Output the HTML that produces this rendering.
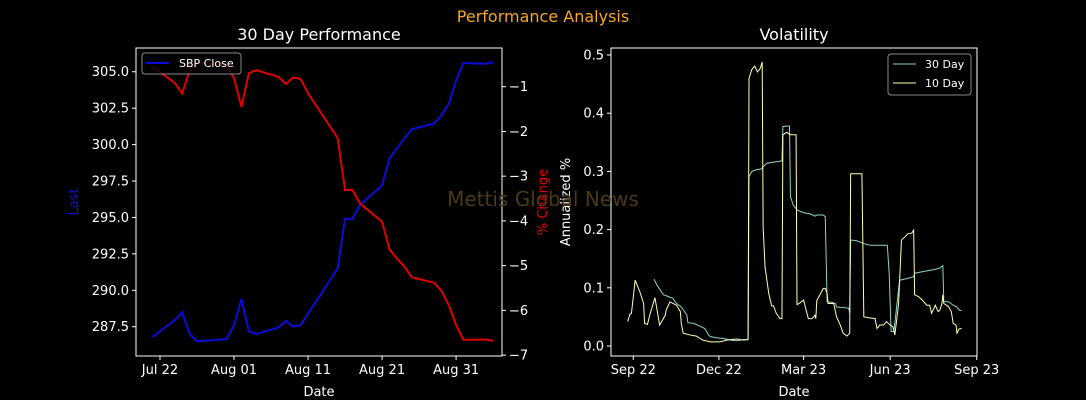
<!DOCTYPE html>
<html><head><meta charset="utf-8"><style>
body{margin:0;background:#000;width:1086px;height:400px;overflow:hidden}
svg{display:block;font-family:"DejaVu Sans","Liberation Sans",sans-serif}
text{fill:#fff;font-size:13px}
</style></head><body>
<svg id="chart" width="1086" height="400" xmlns="http://www.w3.org/2000/svg">
<rect width="1086" height="400" fill="#000"/>
<text x="543" y="22" text-anchor="middle" style="fill:#f5a623;font-size:16px">Performance Analysis</text>
<text x="319" y="40" text-anchor="middle" style="font-size:16px">30 Day Performance</text>
<text x="794" y="40" text-anchor="middle" style="font-size:16px">Volatility</text>
<g id="left"></g><g id="right"></g>
<text x="543" y="206" text-anchor="middle" style="fill:#4a3818;font-size:20px">Mettis Global News</text>
</svg>
<script>
const perfDates=["2023-07-21","2023-07-24","2023-07-25","2023-07-26","2023-07-27","2023-07-31","2023-08-01","2023-08-02","2023-08-03","2023-08-04","2023-08-07","2023-08-08","2023-08-09","2023-08-10","2023-08-11","2023-08-15","2023-08-16","2023-08-17","2023-08-18","2023-08-21","2023-08-22","2023-08-23","2023-08-24","2023-08-25","2023-08-28","2023-08-29","2023-08-30","2023-08-31","2023-09-01","2023-09-04","2023-09-05"];
const closeVals=[286.8,287.95,288.5,287.0,286.5,286.65,287.6,289.4,287.2,287.0,287.45,287.9,287.5,287.6,288.4,291.5,294.9,294.9,295.85,297.2,299.05,299.75,300.4,301.05,301.45,302.0,302.8,304.4,305.6,305.55,305.65];
const pctVals=[-0.55,-0.92,-1.15,-0.63,-0.46,-0.52,-0.81,-1.45,-0.70,-0.63,-0.78,-0.94,-0.79,-0.83,-1.15,-2.15,-3.31,-3.31,-3.61,-4.02,-4.64,-4.84,-5.02,-5.26,-5.38,-5.56,-5.88,-6.33,-6.66,-6.65,-6.68];
const lastTicks=[287.5,290.0,292.5,295.0,297.5,300.0,302.5,305.0];
const pctTicks=[-1,-2,-3,-4,-5,-6,-7];
const perfXTicks=["2023-07-22","2023-08-01","2023-08-11","2023-08-21","2023-08-31"];
const perfXLabels=["Jul 22","Aug 01","Aug 11","Aug 21","Aug 31"];

const vol10Days=[-6,-3.5,-2,2,7,11,12,15,18,23,28,34,35,39,46,50,51,53,60,67,74,82,92,99,110,117,122,123,126,129,132,135,137,138,140,144,147,149,152,156,158,159,163,167,173,174,177,181,186,190,193,194,195,198,202,204,206,207,213,216,220,223,227,230,231,234,243,245,252,257,259,262,266,269,273,276,278,282,285,289,292,296,298,299,303,307,312,315,317,321,324,326,328,329,330,335,338,340,343,344,346,349];
const vol10Vals=[0.042,0.055,0.056,0.113,0.093,0.073,0.039,0.037,0.056,0.083,0.036,0.053,0.062,0.076,0.070,0.059,0.039,0.022,0.019,0.017,0.010,0.007,0.007,0.010,0.012,0.010,0.011,0.460,0.475,0.481,0.471,0.477,0.488,0.205,0.136,0.090,0.069,0.069,0.056,0.047,0.047,0.363,0.367,0.363,0.363,0.071,0.074,0.079,0.047,0.047,0.053,0.047,0.078,0.087,0.099,0.099,0.090,0.073,0.073,0.050,0.036,0.022,0.017,0.022,0.296,0.296,0.296,0.050,0.048,0.047,0.030,0.036,0.036,0.042,0.036,0.033,0.019,0.073,0.182,0.188,0.193,0.194,0.199,0.088,0.085,0.079,0.070,0.070,0.056,0.070,0.059,0.062,0.073,0.088,0.073,0.068,0.059,0.039,0.036,0.022,0.029,0.030];
const vol30Days=[22,25,28,32,37,42,46,51,57,58,64,71,76,80,82,89,96,103,110,117,122,123,126,131,136,138,142,149,158,159,163,166,167,170,174,181,188,193,195,202,204,206,211,215,216,223,229,230,231,237,245,252,259,270,272,274,277,283,291,298,299,305,312,319,326,329,330,335,340,344,347,349];
const vol30Vals=[0.115,0.105,0.098,0.088,0.085,0.082,0.073,0.067,0.053,0.040,0.039,0.034,0.030,0.019,0.016,0.014,0.013,0.010,0.009,0.011,0.011,0.291,0.300,0.303,0.304,0.308,0.314,0.316,0.318,0.377,0.378,0.378,0.257,0.242,0.234,0.229,0.227,0.223,0.225,0.225,0.222,0.076,0.075,0.073,0.067,0.066,0.065,0.057,0.182,0.181,0.176,0.173,0.173,0.173,0.124,0.025,0.025,0.113,0.116,0.119,0.125,0.127,0.129,0.131,0.134,0.138,0.076,0.076,0.070,0.067,0.061,0.061];
const volTicks=[0.0,0.1,0.2,0.3,0.4,0.5];
const volXTicks=[0,91,181,273,365];
const volXLabels=["Sep 22","Dec 22","Mar 23","Jun 23","Sep 23"];

const NS="http://www.w3.org/2000/svg";
function mk(parent,tag,attrs,txt){const e=document.createElementNS(NS,tag);for(const k in attrs)e.setAttribute(k,attrs[k]);if(txt!==undefined)e.textContent=txt;parent.appendChild(e);return e;}
const DAY=86400000, base=Date.UTC(2023,6,22);
const dnum=s=>(Date.parse(s+"T00:00:00Z")-base)/DAY;
const L={x0:136,x1:502,y0:48,y1:356};
const lx=d=>L.x0+(d-(-3.24))/(46.2+3.24)*(L.x1-L.x0);
const ly=v=>L.y1-(v-285.49)/(306.63-285.49)*(L.y1-L.y0);
const py=v=>L.y1-(v-(-7.02))/(-0.135+7.02)*(L.y1-L.y0);
const gl=document.getElementById('left');
lastTicks.forEach(t=>{const y=ly(t);
 const tk=mk(gl,'line',{x1:L.x0-4,x2:L.x0,y1:y,y2:y,stroke:'#fff'});
 
 const lb=mk(gl,'text',{x:L.x0-7,y:y+4.5,'text-anchor':'end'},t.toFixed(1));
 });
pctTicks.forEach(t=>{const y=py(t);
 const tk=mk(gl,'line',{x1:L.x1,x2:L.x1+4,y1:y,y2:y,stroke:'#fff'});
 
 const lb=mk(gl,'text',{x:L.x1+7,y:y+4.5},'\u2212'+Math.abs(t));
 });
perfXTicks.forEach((s,i)=>{const x=lx(dnum(s));
 const tk=mk(gl,'line',{x1:x,x2:x,y1:L.y1,y2:L.y1+4,stroke:'#fff'});
 
 const lb=mk(gl,'text',{x:x,y:L.y1+18,'text-anchor':'middle'},perfXLabels[i]);
 });
let p1=mk(gl,'polyline',{points:perfDates.map((s,i)=>lx(dnum(s))+','+ly(closeVals[i])).join(' '),fill:'none',stroke:'#0c0cd8','stroke-width':2});

let p2=mk(gl,'polyline',{points:perfDates.map((s,i)=>lx(dnum(s))+','+py(pctVals[i])).join(' '),fill:'none',stroke:'#e00000','stroke-width':2});

let f1=mk(gl,'rect',{x:L.x0,y:L.y0,width:L.x1-L.x0,height:L.y1-L.y0,fill:'none',stroke:'#fff'});

let lg=mk(gl,'g',{});
mk(lg,'rect',{x:142,y:53,width:99,height:21,rx:3,fill:'#000',stroke:'#888','fill-opacity':0.8});
mk(lg,'line',{x1:146,x2:169,y1:63,y2:63,stroke:'#0c0cd8','stroke-width':2});
mk(lg,'text',{x:179,y:67,style:'font-size:11px'},'SBP Close');
let a1=mk(gl,'text',{x:78,y:202,transform:'rotate(-90 78 202)','text-anchor':'middle',style:'fill:#1010e0'},'Last');

let a2=mk(gl,'text',{x:547,y:202,transform:'rotate(-90 547 202)','text-anchor':'middle',style:'fill:#e00000'},'% Change');

let a3=mk(gl,'text',{x:319,y:396,'text-anchor':'middle'},'Date');

const R={x0:611,x1:977,y0:48,y1:356};
const rx=d=>R.x0+(d+23.7)/(365.3+23.7)*(R.x1-R.x0);
const ry=v=>R.y1-(v+0.0172)/(0.512+0.0172)*(R.y1-R.y0);
const gr=document.getElementById('right');
volTicks.forEach(t=>{const y=ry(t);
 const tk=mk(gr,'line',{x1:R.x0-4,x2:R.x0,y1:y,y2:y,stroke:'#fff'});
 
 const lb=mk(gr,'text',{x:R.x0-7,y:y+4.5,'text-anchor':'end'},t.toFixed(1));
 });
volXTicks.forEach((d,i)=>{const x=rx(d);
 const tk=mk(gr,'line',{x1:x,x2:x,y1:R.y1,y2:R.y1+4,stroke:'#fff'});
 
 const lb=mk(gr,'text',{x:x,y:R.y1+18,'text-anchor':'middle'},volXLabels[i]);
 });
let v3=mk(gr,'polyline',{points:vol30Days.map((d,i)=>rx(d)+','+ry(vol30Vals[i])).join(' '),fill:'none',stroke:'#8dd3c7','stroke-width':1});

let v1=mk(gr,'polyline',{points:vol10Days.map((d,i)=>rx(d)+','+ry(vol10Vals[i])).join(' '),fill:'none',stroke:'#ffffb3','stroke-width':1});

let f2=mk(gr,'rect',{x:R.x0,y:R.y0,width:R.x1-R.x0,height:R.y1-R.y0,fill:'none',stroke:'#fff'});

let rg=mk(gr,'g',{});
mk(rg,'rect',{x:888,y:54,width:83,height:41,rx:3,fill:'#000',stroke:'#888'});
mk(rg,'line',{x1:893,x2:916,y1:64,y2:64,stroke:'#8dd3c7'});
mk(rg,'text',{x:925,y:68,style:'font-size:11px'},'30 Day');
mk(rg,'line',{x1:893,x2:916,y1:83,y2:83,stroke:'#ffffb3'});
mk(rg,'text',{x:925,y:87,style:'font-size:11px'},'10 Day');
let a4=mk(gr,'text',{x:570,y:202,transform:'rotate(-90 570 202)','text-anchor':'middle'},'Annualized %');

let a5=mk(gr,'text',{x:794,y:396,'text-anchor':'middle'},'Date');

</script>
</body></html>
